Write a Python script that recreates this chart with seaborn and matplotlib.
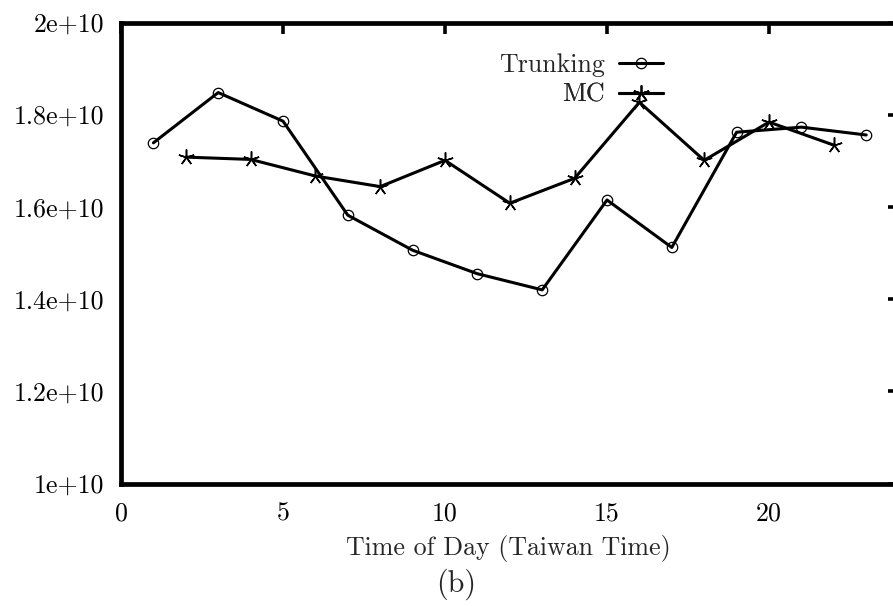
import matplotlib
matplotlib.use("Agg")
import matplotlib.pyplot as plt
import seaborn as sns
import pandas as pd

# Hourly throughput samples
trunk_hours = [1, 3, 5, 7, 9, 11, 13, 15, 17, 19, 21, 23]
trunk_values = [1.739e10, 1.848e10, 1.786e10, 1.582e10, 1.506e10, 1.455e10,
                1.420e10, 1.615e10, 1.512e10, 1.762e10, 1.773e10, 1.756e10]

mc_hours = [2, 4, 6, 8, 10, 12, 14, 16, 18, 20, 22]
mc_values = [1.708e10, 1.703e10, 1.667e10, 1.644e10, 1.701e10, 1.608e10,
             1.662e10, 1.827e10, 1.701e10, 1.784e10, 1.734e10]

x_ticks = [0, 5, 10, 15, 20]
y_ticks = [1.0e10, 1.2e10, 1.4e10, 1.6e10, 1.8e10, 2.0e10]
y_tick_labels = ["1e+10", "1.2e+10", "1.4e+10", "1.6e+10", "1.8e+10", "2e+10"]

series_names = ["Trunking", "MC"]
x_label = "Time of Day (Taiwan Time)"
caption = "(b)"

sns.set_style("white")
plt.rcParams["font.family"] = ["cmr10", "DejaVu Serif"]
plt.rcParams["axes.formatter.use_mathtext"] = True
plt.rcParams["mathtext.fontset"] = "cm"

FS = 18.7

fig = plt.figure(figsize=(8.93, 6.06), dpi=100)
ax = fig.add_axes([121 / 893, 1 - 483.5 / 606, 777.6 / 893, 461 / 606])

trunk_df = pd.DataFrame({"hour": trunk_hours, "value": trunk_values})
mc_df = pd.DataFrame({"hour": mc_hours, "value": mc_values})

sns.lineplot(data=trunk_df, x="hour", y="value", ax=ax, color="black",
             linewidth=2.2, marker="o", markersize=7.5, markerfacecolor="none",
             markeredgecolor="black", markeredgewidth=0.9, legend=False)
sns.lineplot(data=mc_df, x="hour", y="value", ax=ax, color="black",
             linewidth=2.2, marker=(5, 2, 0), markersize=11.5,
             markeredgecolor="black", markeredgewidth=1.1, legend=False)

ax.set_xlim(0, 24)
ax.set_ylim(1.0e10, 2.0e10)
ax.set_xticks(x_ticks)
ax.set_xticklabels([str(t) for t in x_ticks], fontsize=FS)
ax.set_yticks(y_ticks)
ax.set_yticklabels(y_tick_labels, fontsize=FS)
ax.set_xlabel("")
ax.set_ylabel("")

ax.tick_params(axis="both", which="both", direction="in", length=8, width=2.6,
               colors="black", top=True, right=True)
ax.tick_params(axis="x", pad=13)
ax.tick_params(axis="y", pad=12)
for side in ax.spines.values():
    side.set_linewidth(3.4)
    side.set_color("black")

# Right-aligned key entries, text to the left of each sample
lines = ax.lines
for line, name, ypix in zip(lines[:2], series_names, [65, 95]):
    leg = ax.legend([line], [name], loc="center right",
                    bbox_to_anchor=(663 / 893, 1 - ypix / 606),
                    bbox_transform=fig.transFigure, frameon=False,
                    markerfirst=False, borderpad=0, borderaxespad=0,
                    handlelength=1.7, handletextpad=0.55, fontsize=FS)
    ax.add_artist(leg)

fig.text(508 / 893, 1 - 548 / 606, x_label, ha="center", va="center", fontsize=FS)
fig.text(456 / 893, 1 - 584 / 606, caption, ha="center", va="center", fontsize=FS + 3)

fig.savefig("out.png", dpi=100, facecolor="white")
